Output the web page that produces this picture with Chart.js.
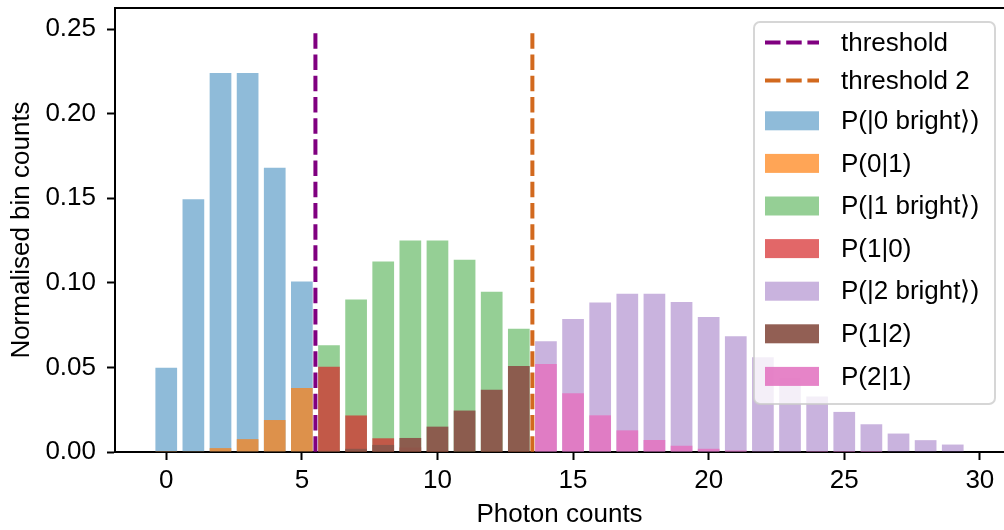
<!DOCTYPE html>
<html><head><meta charset="utf-8">
<script src="https://cdn.jsdelivr.net/npm/chart.js@4.4.0/dist/chart.umd.min.js"></script>
<style>html,body{margin:0;padding:0;background:#fff}#wrap{width:1004px;height:530px}</style>
</head><body><div id="wrap"><canvas id="c" width="1004" height="530"></canvas></div>
<script>
// ---- data ----
const countsLow  = [0, 1, 2, 3, 4, 5];
const countsMid  = [6, 7, 8, 9, 10, 11, 12, 13];
const countsHigh = [14, 15, 16, 17, 18, 19, 20, 21, 22, 23, 24, 25, 26, 27, 28, 29];

const p0Bright  = [0.0498, 0.1494, 0.2240, 0.2240, 0.1680, 0.1008];
const p0Given1  = [0.00005, 0.00045, 0.0023, 0.0076, 0.0189, 0.0378];
const p1Bright  = [0.0631, 0.0901, 0.1126, 0.1251, 0.1251, 0.1137, 0.0948, 0.0729];
const p1Given0  = [0.0504, 0.0216, 0.0081, 0.0027, 0.0008, 0.0002, 0.00006, 0.00001];
const p2Bright  = [0.0655, 0.0786, 0.0884, 0.0936, 0.0936, 0.0887, 0.0798, 0.0684, 0.0560, 0.0438, 0.0328, 0.0237, 0.0164, 0.0109, 0.0070, 0.0044];
const p1Given2  = [0.0007, 0.0019, 0.0042, 0.0083, 0.0150, 0.0245, 0.0368, 0.0509];
const p2Given1  = [0.0521, 0.0347, 0.0217, 0.0128, 0.0071, 0.0037, 0.0019, 0.0009, 0.0004, 0.0002, 0.00007, 0.00003, 0.00001, 0, 0, 0];

const threshold1 = 5.5;
const threshold2 = 13.5;
const thresholdTop = 0.2475;

const xTicks = [0, 5, 10, 15, 20, 25, 30];
const yTicks = [0, 0.05, 0.10, 0.15, 0.20, 0.25];

const seriesLabels = ['threshold', 'threshold 2', 'P(|0 bright\u27E9)', 'P(0|1)', 'P(|1 bright\u27E9)', 'P(1|0)', 'P(|2 bright\u27E9)', 'P(1|2)', 'P(2|1)'];

// ---- helpers ----
const pts = (xs, ys) => xs.map((x, i) => ({ x: x, y: ys[i] }));
const FONT = '"Liberation Sans", Arial, sans-serif';
const FS = 26;

function barSet(label, xs, ys, color, order) {
  return { type: 'bar', label, data: pts(xs, ys), backgroundColor: color, borderWidth: 0,
           grouped: false, barPercentage: 0.8, categoryPercentage: 1.0, order };
}
function vline(label, x, color, order) {
  return { type: 'line', label, data: [{ x: x, y: thresholdTop }, { x: x, y: 0 }],
           borderColor: color, backgroundColor: color, borderWidth: 4, borderDash: [15.5, 5.7],
           borderCapStyle: 'butt', pointRadius: 0, fill: false, tension: 0, order };
}

const datasets = [
  vline(seriesLabels[0], threshold1, '#800080', 20),
  vline(seriesLabels[1], threshold2, '#d2691e', 19),
  barSet(seriesLabels[2], countsLow,  p0Bright, 'rgba(31,119,180,0.5)', 6),
  barSet(seriesLabels[3], countsLow,  p0Given1, 'rgba(255,127,14,0.7)', 5),
  barSet(seriesLabels[4], countsMid,  p1Bright, 'rgba(44,160,44,0.5)', 4),
  barSet(seriesLabels[5], countsMid,  p1Given0, 'rgba(214,39,40,0.7)', 3),
  barSet(seriesLabels[6], countsHigh, p2Bright, 'rgba(148,103,189,0.5)', 2),
  barSet(seriesLabels[7], countsMid,  p1Given2, 'rgba(140,86,75,0.95)', 1),
  barSet(seriesLabels[8], countsHigh, p2Given1, 'rgba(227,119,194,0.9)', 0)
];

const framePlugin = {
  id: 'frame',
  afterDraw(chart) {
    const { ctx, chartArea: a } = chart;
    ctx.save();
    ctx.strokeStyle = '#000';
    ctx.lineWidth = 2;
    ctx.beginPath();
    ctx.moveTo(a.left - 1, a.top);
    ctx.lineTo(a.right + 1, a.top);
    ctx.stroke();
    ctx.restore();
  }
};

const boxLegend = {
  id: 'boxLegend',
  afterDraw(chart) {
    const ctx = chart.ctx;
    const bx = 754, by = 22, bw = 241, bh = 382, r = 6;
    ctx.save();
    ctx.beginPath();
    ctx.moveTo(bx + r, by);
    ctx.arcTo(bx + bw, by, bx + bw, by + bh, r);
    ctx.arcTo(bx + bw, by + bh, bx, by + bh, r);
    ctx.arcTo(bx, by + bh, bx, by, r);
    ctx.arcTo(bx, by, bx + bw, by, r);
    ctx.closePath();
    ctx.fillStyle = 'rgba(255,255,255,0.8)';
    ctx.fill();
    ctx.strokeStyle = 'rgba(204,204,204,0.8)';
    ctx.lineWidth = 2;
    ctx.stroke();

    const ds = chart.data.datasets;
    const rowH = ds.map(d => d.type === 'line' ? 38 : 42.6);
    let y = by + 20.5;
    ds.forEach((d, i) => {
      if (i > 0) y += (rowH[i - 1] + rowH[i]) / 2;
      if (d.type === 'line') {
        ctx.save();
        ctx.strokeStyle = d.borderColor;
        ctx.lineWidth = 4;
        ctx.setLineDash(d.borderDash);
        ctx.lineCap = 'butt';
        ctx.beginPath();
        ctx.moveTo(765, y);
        ctx.lineTo(819, y);
        ctx.stroke();
        ctx.restore();
      } else {
        ctx.fillStyle = d.backgroundColor;
        ctx.fillRect(765, y - 9.5, 54, 19);
      }
      ctx.fillStyle = '#000';
      ctx.font = FS + 'px ' + FONT;
      ctx.textBaseline = 'middle';
      ctx.textAlign = 'left';
      ctx.fillText(d.label, 841, y + 1);
    });
    ctx.restore();
  }
};

function build() {
  Chart.defaults.font.family = FONT;
  Chart.defaults.color = '#000';
  new Chart(document.getElementById('c'), {
    type: 'bar',
    data: { datasets },
    options: {
      responsive: false,
      animation: false,
      devicePixelRatio: 1,
      layout: { padding: { top: 8, left: 0, right: 0, bottom: 0 } },
      plugins: { legend: { display: false }, tooltip: { enabled: false } },
      scales: {
        x: {
          type: 'linear', min: -1.89, max: 30.89, offset: false,
          afterBuildTicks: s => { s.ticks = xTicks.map(v => ({ value: v })); },
          afterFit: s => { s.height = 78; s.paddingLeft = 0; s.paddingRight = 0; },
          grid: { display: true, drawOnChartArea: false, drawTicks: true, tickLength: 8, tickWidth: 2, tickColor: '#000', offset: false },
          border: { display: true, color: '#000', width: 2 },
          ticks: { color: '#000', font: { size: FS }, padding: 5, maxRotation: 0, autoSkip: false, callback: v => String(v) },
          title: { display: true, text: 'Photon counts', color: '#000', font: { size: FS, lineHeight: 1.2 }, padding: { top: 0, bottom: 0 } }
        },
        y: {
          type: 'linear', min: 0, max: 0.2625,
          afterBuildTicks: s => { s.ticks = yTicks.map(v => ({ value: v })); },
          afterFit: s => { s.width = 115; s.paddingTop = 0; s.paddingBottom = 0; },
          grid: { display: true, drawOnChartArea: false, drawTicks: true, tickLength: 8, tickWidth: 2, tickColor: '#000' },
          border: { display: true, color: '#000', width: 2 },
          ticks: { color: '#000', font: { size: FS }, padding: 11, autoSkip: false, callback: v => Number(v).toFixed(2) },
          title: { display: true, text: 'Normalised bin counts', color: '#000', font: { size: FS, lineHeight: 1.2 }, padding: { top: 6, bottom: 0 } }
        }
      }
    },
    plugins: [framePlugin, boxLegend]
  });
}
if (document.fonts && document.fonts.load) {
  document.fonts.load(FS + 'px "Liberation Sans"').then(build, build);
} else { build(); }
</script>
</body></html>
